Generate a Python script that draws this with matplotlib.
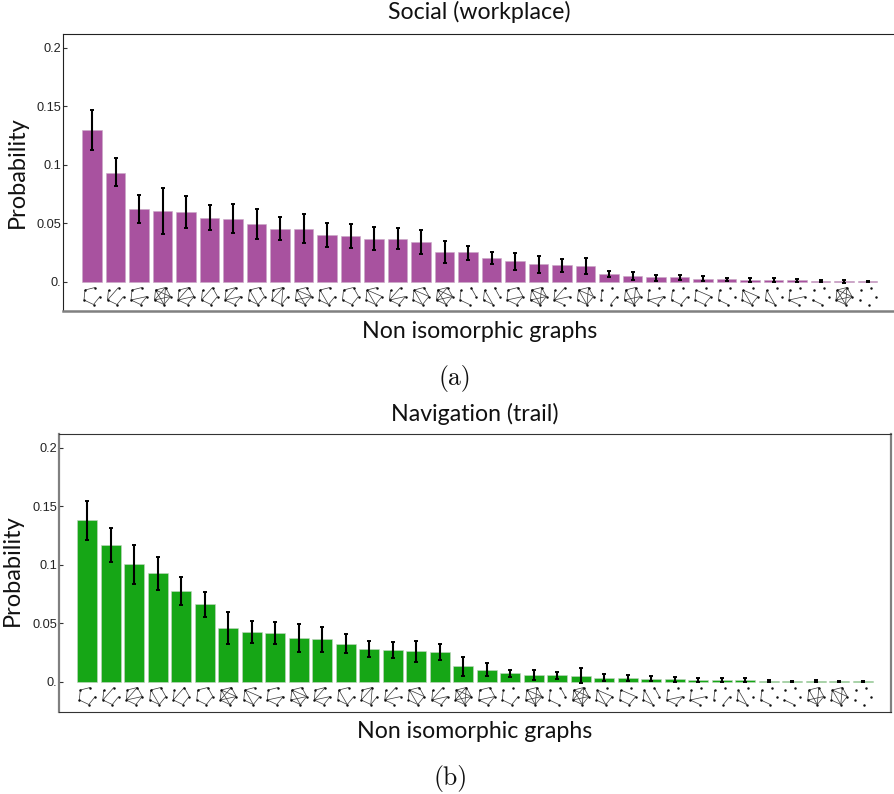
import matplotlib
matplotlib.use('Agg')
import matplotlib.pyplot as plt
from matplotlib.collections import LineCollection

W, H = 895, 794
LABEL_FONT = ['Lato', 'DejaVu Sans']
TICK_FONT = ['Liberation Sans', 'DejaVu Sans']

# panel (a) values, lower and upper whisker ends
social = [.130, .0934, .0624, .0607, .0601, .055, .0541, .0499, .0456, .0456, .0399, .039,
          .037, .0368, .0339, .0254, .0254, .0205, .0177, .0151, .0142, .0137, .0068, .0048,
          .004, .004, .0028, .0023, .0017, .0017, .0014, .0007, .0007, .0006]
social_low = [.1125, .0818, .0507, .0413, .0459, .0442, .0422, .037, .0356, .0333, .0299, .0291,
              .0271, .0279, .0236, .0162, .0191, .0154, .0103, .008, .0088, .0066, .004, .0014,
              .0011, .0014, .0006, .0006, 0, 0, .0003, -.0001, -.0005, .0002]
social_high = [.1467, .106, .074, .0803, .0738, .0655, .0667, .0624, .0556, .0578, .0501, .0493,
               .047, .0459, .0444, .035, .031, .0256, .0248, .022, .0194, .0205, .0091, .0083,
               .0063, .0057, .0048, .0037, .0034, .0031, .0026, .0015, .0019, .001]

# panel (b)
navigation = [.1379, .1168, .1003, .0926, .0775, .0667, .0464, .043, .0422, .0373, .0365, .0328,
              .0285, .0276, .0262, .0259, .0134, .0105, .0077, .0057, .0057, .0054, .0037, .0037,
              .0028, .0028, .002, .002, .002, .0009, .0007, .0007, .0007, .0006]
navigation_low = [.1214, .1028, .084, .0781, .0655, .0558, .0328, .0336, .0328, .0254, .0259, .0248,
                  .0217, .0205, .0168, .0191, .0054, .0048, .0043, .0017, .0028, -.001, .0009, .0009,
                  .0006, .0003, .0003, .0003, .0003, .0004, .0003, -.0001, .0002, .0003]
navigation_high = [.1547, .1311, .1165, .1068, .0892, .0769, .0598, .0519, .051, .0493, .0473, .0407,
                   .035, .0342, .0353, .0328, .0214, .016, .0105, .01, .0083, .012, .0066, .0057,
                   .0048, .0046, .0034, .0031, .0031, .0014, .0011, .0013, .0012, .0009]

y_ticks = [0, .05, .1, .15, .2]
y_ticklabels = ['0.', '0.05', '0.1', '0.15', '0.2']

# small graphs under the bars, nodes: a top right, b top left, c left, d bottom, e right
cycle = ['ab', 'bc', 'cd', 'de', 'ea']
graphs = [
    ['ab', 'bc', 'cd', 'de'],
    ['bc', 'ac', 'cd', 'de'],
    ['ab', 'bc', 'ce', 'cd', 'de'],
    ['ab', 'bc', 'cd', 'de', 'ea', 'ac', 'ad', 'bd', 'be', 'ce'],
    cycle + ['ac', 'ce'],
    ['ac', 'ae', 'de', 'cd', 'bc'],
    ['ab', 'bc', 'ac', 'ce', 'cd', 'de'],
    ['ab', 'bd', 'ae', 'de', 'cd', 'bc'],
    ['ab', 'bc', 'ac', 'ad', 'cd', 'de'],
    cycle + ['be', 'bd', 'ce'],
    ['ab', 'bd', 'bc', 'cd', 'de'],
    cycle,
    ['ab', 'be', 'bd', 'bc', 'cd', 'de'],
    ['ac', 'ce', 'cd', 'de', 'bc'],
    cycle + ['bd', 'be'],
    cycle + ['be', 'bd', 'ac', 'ce'],
    ['bc', 'cd', 'ae'],
    ['bc', 'bd', 'cd', 'ae'],
    ['ab', 'ae', 'bc', 'cd', 'de', 'ce'],
    cycle + ['be', 'bd', 'ce', 'ad'],
    ['ac', 'ce', 'cd', 'bc'],
    cycle + ['ad', 'bd', 'be'],
    ['bc', 'de'],
    cycle + ['ad', 'ce', 'bd'],
    ['bc', 'ce', 'cd', 'de'],
    ['bc', 'cd', 'de'],
    ['bc', 'cd', 'de', 'be'],
    ['bc', 'cd'],
    ['bc', 'be', 'bd', 'cd', 'de'],
    ['bc', 'bd', 'cd'],
    ['bc', 'ce', 'cd'],
    ['cd'],
    ['ab', 'ac', 'ad', 'ae', 'bc', 'bd', 'be', 'cd', 'ce', 'de'],
    [],
]
social_order = list(range(34))
navigation_order = [0, 1, 4, 7, 5, 11, 15, 12, 2, 9, 6, 10, 8, 20, 14, 13, 3, 18, 25, 19,
                    16, 32, 28, 26, 17, 24, 30, 22, 29, 27, 31, 23, 21, 33]

# node offsets in pixels from the bar centre and the zero line
nodes = {'a': (3, 5.5), 'b': (-7, 8), 'c': (-8, 18), 'd': (1.5, 22.5), 'e': (8, 14.5)}
PX_Y = .05 / 58.6
PX_X = 1 / 23.5


def draw_graph(ax, cx, edges):
    pos = {k: (cx + v[0] * PX_X, -v[1] * PX_Y) for k, v in nodes.items()}
    segs = [[pos[e[0]], pos[e[1]]] for e in edges]
    ax.add_collection(LineCollection(segs, colors='#333333', linewidths=.5, clip_on=False))
    ax.scatter([p[0] for p in pos.values()], [p[1] for p in pos.values()], s=3.2, color='#111111',
               linewidths=0, zorder=3)


def draw_panel(box, x0, zero_y, values, low, high, order, color, edge):
    left, top, right, bottom = box
    ax = fig.add_axes([left / W, 1 - bottom / H, (right - left) / W, (bottom - top) / H])
    xs = list(range(len(values)))
    ax.bar(xs, values, width=.85, color=color, edgecolor=edge, linewidth=.4)
    yerr = [[v - l for v, l in zip(values, low)], [h - v for v, h in zip(values, high)]]
    ax.errorbar(xs, values, yerr=yerr, fmt='none', ecolor='black', elinewidth=1.5,
                capsize=1.6, capthick=1.4)
    for x, g in zip(xs, order):
        draw_graph(ax, x, graphs[g])
    ax.set_xlim((left - x0) / 23.5, (right - x0) / 23.5)
    ax.set_ylim((zero_y - bottom) * PX_Y, (zero_y - top) * PX_Y)
    ax.set_xticks([])
    ax.set_yticks(y_ticks)
    ax.set_yticklabels(y_ticklabels, family=TICK_FONT, fontsize=9.2, color='#222222')
    ax.tick_params(axis='y', direction='in', length=3, width=.8, pad=1.5, color='#333333')
    return ax


fig = plt.figure(figsize=(W / 100, H / 100), dpi=100)

ax1 = draw_panel((63, 33.5, 895.5, 311), 92, 282, social, social_low, social_high,
                 social_order, '#a8529f', '#c9a9c6')
ax1.spines['right'].set_visible(False)
ax1.spines['top'].set_color('#222222')
ax1.spines['left'].set_color('#222222')
ax1.spines['bottom'].set_color('#808080')
ax1.spines['bottom'].set_linewidth(1.8)

ax2 = draw_panel((59, 434, 891, 711.5), 87.3, 682, navigation, navigation_low, navigation_high,
                 navigation_order, '#16a616', '#c4d4c4')
ax2.spines['top'].set_color('#333333')
ax2.spines['bottom'].set_color('#333333')
ax2.spines['left'].set_color('#808080')
ax2.spines['right'].set_color('#808080')
ax2.spines['left'].set_linewidth(1.6)
ax2.spines['right'].set_linewidth(1.6)


def txt(x, y, s, **kw):
    kw.setdefault('family', LABEL_FONT)
    kw.setdefault('fontsize', 16.7)
    fig.text(x / W, 1 - y / H, s, ha='center', va='center', color='#111111', **kw)


txt(479.5, 12, 'Social (workplace)')
txt(479.5, 331, 'Non isomorphic graphs')
txt(454.5, 379, '(a)', family='cmr10', fontsize=18.5)
txt(475, 414, 'Navigation (trail)')
txt(475, 731, 'Non isomorphic graphs')
txt(450.5, 779, '(b)', family='cmr10', fontsize=18.5)
txt(17, 172, 'Probability', rotation=90, fontsize=17)
txt(12, 570, 'Probability', rotation=90, fontsize=17)

fig.savefig('out.png', dpi=100)
